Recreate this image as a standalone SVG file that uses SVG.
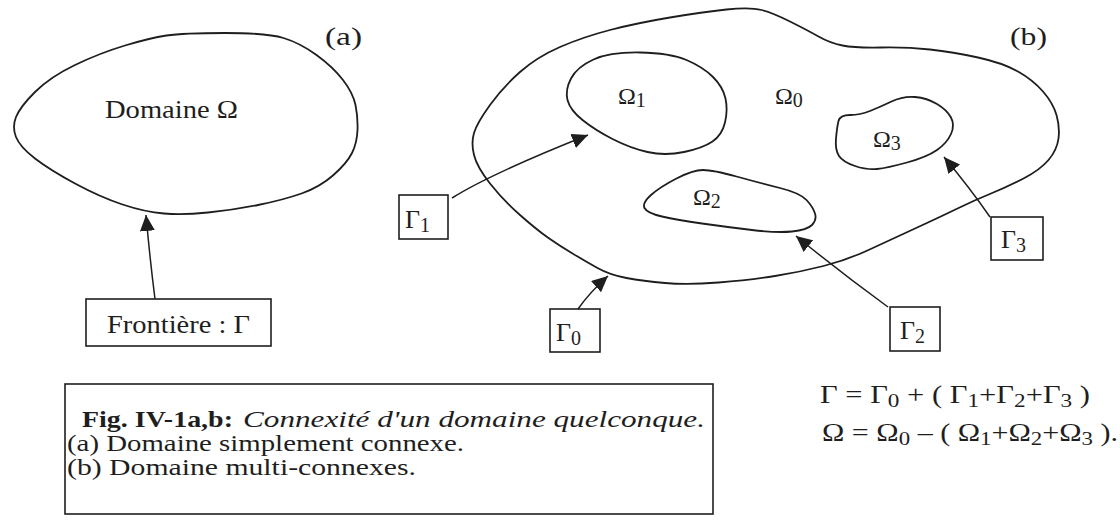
<svg xmlns="http://www.w3.org/2000/svg" width="1120" height="520" viewBox="0 0 1120 520">
<style>
.shape{fill:none;stroke:#1e1e1e;stroke-width:1.8;stroke-linejoin:round}
.box{fill:none;stroke:#1e1e1e;stroke-width:1.6}
.conn{fill:none;stroke:#1e1e1e;stroke-width:1.5}
.t{font-family:"Liberation Serif","Times New Roman",serif;fill:#1e1e1e}
</style>
<defs>
<marker id="ah" markerUnits="userSpaceOnUse" markerWidth="18" markerHeight="15" refX="16" refY="7.5" orient="auto">
<path d="M0,0 L16,7.5 L0,15 z" fill="#1e1e1e"/>
</marker>
</defs>
<rect width="1120" height="520" fill="#fff"/>

<g id="domain-a">
<path class="shape" d="M16,137 Q12,127 16,117 Q20,107 35,92 Q50,77 75,65 Q100,53 125,45.5 Q150,38 166.5,35.5 Q183,33 225,33 Q267,33 283.5,38 Q300,43 316.5,55 Q333,67 343,80 Q353,93 355.5,105 Q358,117 357.5,130 Q357,143 352,153 Q347,163 333.5,175 Q320,187 301.5,193.5 Q283,200 258,205 Q233,210 208,212.5 Q183,215 164,213.5 Q145,212 122.5,204.5 Q100,197 75,183.5 Q50,170 35,158.5 Q20,147 16,137 Z"/>
<text class="t" x="105" y="118" font-size="25" textLength="133" lengthAdjust="spacingAndGlyphs">Domaine Ω</text>
</g>
<g id="label-a"><text class="t" x="325" y="45" font-size="25" textLength="37" lengthAdjust="spacingAndGlyphs">(a)</text></g>
<g id="label-b"><text class="t" x="1010" y="45" font-size="25" textLength="37" lengthAdjust="spacingAndGlyphs">(b)</text></g>

<g id="frontiere">
<rect class="box" x="86" y="299" width="185" height="47"/>
<text class="t" x="107" y="333" font-size="25" textLength="143" lengthAdjust="spacingAndGlyphs">Frontière : Γ</text>
</g>

<g id="omega0">
<path class="shape" d="M726.5,9.5 Q750,7 761.5,10 Q773,13 790,21.5 Q807,30 818.5,36.5 Q830,43 842.5,45.5 Q855,48 881,47.5 Q907,47 930,49.5 Q953,52 978,57.5 Q1003,63 1018,71.5 Q1033,80 1043,91.5 Q1053,103 1056.5,115 Q1060,127 1058.5,138.5 Q1057,150 1048.5,160 Q1040,170 1023.5,178.5 Q1007,187 991,193.5 Q975,200 957.5,208.5 Q940,217 915,228.5 Q890,240 868.5,250 Q847,260 823.5,266 Q800,272 775,276 Q750,280 718.5,282.5 Q687,285 665,283 Q643,281 626.5,278 Q610,275 597.5,268 Q585,261 572.5,253.5 Q560,246 548.5,238 Q537,230 520,215 Q503,200 490,183.5 Q477,167 474,155 Q471,143 474,133 Q477,123 490,105 Q503,87 520,72 Q537,57 560,47 Q583,37 610,30 Q637,23 670,17.5 Q703,12 726.5,9.5 Z"/>
<text class="t" x="775" y="104" font-size="24">Ω<tspan dy="3" font-size="20">0</tspan></text>
</g>

<g id="omega1">
<path class="shape" d="M571,78.5 Q577,67 593.5,59.5 Q610,52 640,52.5 Q670,53 686.5,60 Q703,67 713,77 Q723,87 725.5,98.5 Q728,110 725,122.5 Q722,135 712.5,141.5 Q703,148 684,152 Q665,156 647.5,152 Q630,148 612.5,139 Q595,130 582.5,120 Q570,110 567.5,100 Q565,90 571,78.5 Z"/>
<text class="t" x="618" y="104" font-size="24">Ω<tspan dy="3" font-size="20">1</tspan></text>
</g>

<g id="omega2">
<path class="shape" d="M644.5,208 Q642,203 651,195 Q660,187 676.5,178.5 Q693,170 703,170 Q713,170 736.5,176.5 Q760,183 780,188 Q800,193 806.5,200 Q813,207 815,213.5 Q817,220 812,225 Q807,230 792,231.5 Q777,233 752,230 Q727,227 702,223.5 Q677,220 662,216.5 Q647,213 644.5,208 Z"/>
<text class="t" x="693" y="205" font-size="24">Ω<tspan dy="3" font-size="20">2</tspan></text>
</g>

<g id="omega3">
<path class="shape" d="M836,138.5 Q837,127 838.5,121 Q840,115 850,115 Q860,115 870,111 Q880,107 891.5,101.5 Q903,96 915,97 Q927,98 937,104 Q947,110 951,117.5 Q955,125 951,134 Q947,143 937,150 Q927,157 907,162.5 Q887,168 877,169 Q867,170 855,166 Q843,162 839,156 Q835,150 836,138.5 Z"/>
<text class="t" x="873" y="147" font-size="24">Ω<tspan dy="3" font-size="20">3</tspan></text>
</g>

<g id="gamma1">
<rect class="box" x="399" y="195" width="49" height="44"/>
<text class="t" x="405" y="228" font-size="26">Γ<tspan dy="4" font-size="20">1</tspan></text>
</g>
<g id="gamma0">
<rect class="box" x="550" y="309" width="50" height="43"/>
<text class="t" x="556" y="341" font-size="26">Γ<tspan dy="4" font-size="20">0</tspan></text>
</g>
<g id="gamma2">
<rect class="box" x="890" y="307" width="50" height="44"/>
<text class="t" x="900" y="339" font-size="26">Γ<tspan dy="4" font-size="20">2</tspan></text>
</g>
<g id="gamma3">
<rect class="box" x="991" y="217" width="52" height="43"/>
<text class="t" x="1001" y="248" font-size="26">Γ<tspan dy="4" font-size="20">3</tspan></text>
</g>

<g id="connectors">
<path class="conn" d="M155,299 Q150,260 146,215" marker-end="url(#ah)"/>
<path class="conn" d="M452,198 Q490,174 588,135" marker-end="url(#ah)"/>
<path class="conn" d="M578,309 Q590,292 608,276" marker-end="url(#ah)"/>
<path class="conn" d="M888,307 Q840,272 796,236" marker-end="url(#ah)"/>
<path class="conn" d="M990,217 Q970,188 944,157" marker-end="url(#ah)"/>
</g>

<g id="equations">
<text class="t" x="820" y="403" font-size="25" textLength="270" lengthAdjust="spacingAndGlyphs">Γ = Γ<tspan dy="4" font-size="19">0</tspan><tspan dy="-4"> + ( Γ</tspan><tspan dy="4" font-size="19">1</tspan><tspan dy="-4">+Γ</tspan><tspan dy="4" font-size="19">2</tspan><tspan dy="-4">+Γ</tspan><tspan dy="4" font-size="19">3</tspan><tspan dy="-4"> )</tspan></text>
<text class="t" x="822" y="441" font-size="25" textLength="296" lengthAdjust="spacingAndGlyphs">Ω = Ω<tspan dy="4" font-size="19">0</tspan><tspan dy="-4"> – ( Ω</tspan><tspan dy="4" font-size="19">1</tspan><tspan dy="-4">+Ω</tspan><tspan dy="4" font-size="19">2</tspan><tspan dy="-4">+Ω</tspan><tspan dy="4" font-size="19">3</tspan><tspan dy="-4"> ).</tspan></text>
</g>

<g id="caption">
<rect class="box" x="65" y="384" width="648" height="130"/>
<text class="t" x="82" y="427" font-size="24" font-weight="bold" textLength="151" lengthAdjust="spacingAndGlyphs">Fig. IV-1a,b:</text>
<text class="t" x="243" y="427" font-size="24" font-style="italic" textLength="462" lengthAdjust="spacingAndGlyphs">Connexité d'un domaine quelconque.</text>
<text class="t" x="67" y="451" font-size="23" textLength="397" lengthAdjust="spacingAndGlyphs">(a) Domaine simplement connexe.</text>
<text class="t" x="67" y="475" font-size="23" textLength="349" lengthAdjust="spacingAndGlyphs">(b) Domaine multi-connexes.</text>
</g>
</svg>
